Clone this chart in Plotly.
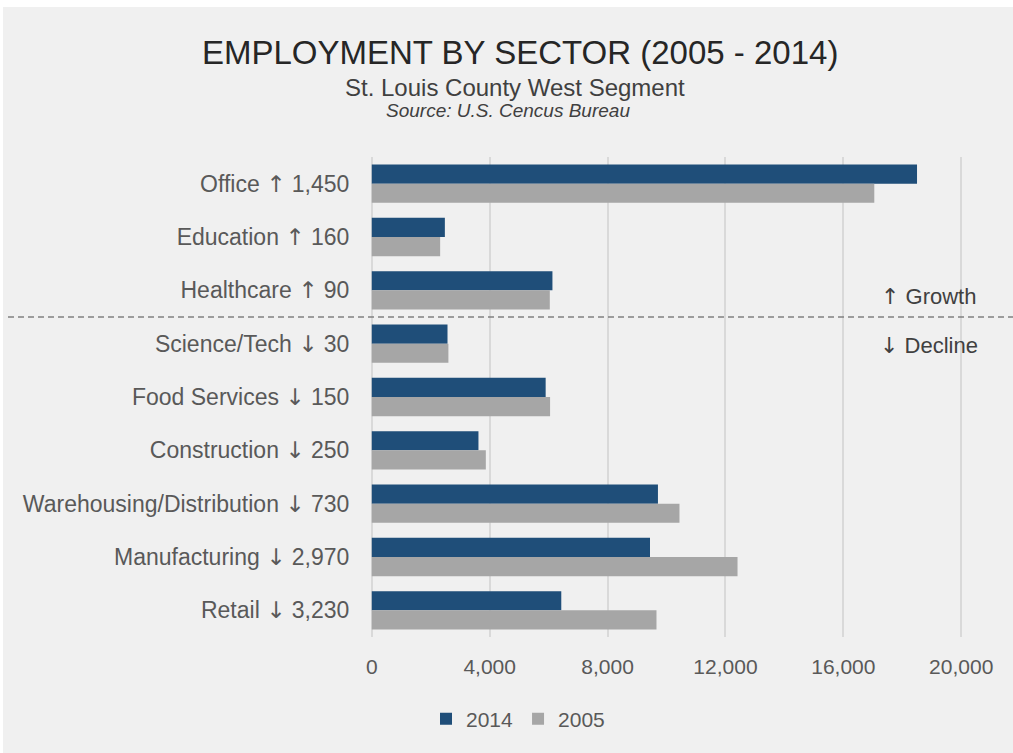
import plotly.graph_objects as go

# Employment counts by sector, St. Louis County West Segment
sectors = ["Office", "Education", "Healthcare", "Science/Tech", "Food Services",
           "Construction", "Warehousing/Distribution", "Manufacturing", "Retail"]
jobs_2014 = [18500, 2480, 6130, 2570, 5900, 3620, 9710, 9440, 6430]
jobs_2005 = [17050, 2320, 6040, 2600, 6050, 3870, 10440, 12410, 9660]
x_ticks = [0, 4000, 8000, 12000, 16000, 20000]

# Category labels carry the 2005 -> 2014 change
ARROW_FONT = "DejaVu Sans"
labels = []
for s, a, b in zip(sectors, jobs_2014, jobs_2005):
    d = a - b
    arrow = "\u2191" if d > 0 else "\u2193"
    labels.append(f"{s} <span style='font-family:{ARROW_FONT}'>{arrow}</span> {abs(d):,}")

W, H = 1013, 753
ML, MR, MT, MB = 370, 50, 157, 116
PW, PH = W - ML - MR, H - MT - MB

def px_x(p):
    return (p - ML) / PW

def px_y(p):
    return 1 - (p - MT) / PH

BLUE = "#1f4e79"
GREY = "#a6a6a6"
FONT = "Liberation Sans, Arial, sans-serif"

fig = go.Figure()
fig.add_trace(go.Bar(y=labels, x=jobs_2014, name="2014", orientation="h",
                     marker=dict(color=BLUE, line=dict(width=0))))
fig.add_trace(go.Bar(y=labels, x=jobs_2005, name="2005", orientation="h",
                     marker=dict(color=GREY, line=dict(width=0))))

shapes = [
    # panel background
    dict(type="rect", xref="paper", yref="paper", x0=px_x(3), x1=px_x(W + 5),
         y0=px_y(H + 5), y1=px_y(7), fillcolor="#f0f0f0", line=dict(width=0),
         layer="below"),
    # growth / decline divider between Healthcare and Science/Tech
    dict(type="line", xref="paper", yref="y", x0=px_x(8), x1=px_x(W),
         y0=2.5, y1=2.5, line=dict(color="#808080", width=1.5, dash="6px,4px")),
]

def note(text, cx, cy, size, color="#404040"):
    return dict(text=text, xref="paper", yref="paper", x=px_x(cx), y=px_y(cy),
                xanchor="center", yanchor="middle", showarrow=False,
                font=dict(size=size, color=color, family=FONT))

annotations = [
    note("EMPLOYMENT BY SECTOR (2005 - 2014)", 520, 53, 33, "#262626"),
    note("St. Louis County West Segment", 515, 87, 24),
    note("<i>Source: U.S. Cencus Bureau</i>", 508, 110, 19),
    note(f"<span style='font-family:{ARROW_FONT}'>\u2191</span> Growth", 928, 296, 22),
    note(f"<span style='font-family:{ARROW_FONT}'>\u2193</span> Decline", 929, 345, 22),
]

fig.update_layout(
    width=W, height=H,
    margin=dict(l=ML, r=MR, t=MT, b=MB, pad=0),
    paper_bgcolor="white", plot_bgcolor="rgba(0,0,0,0)",
    barmode="group", bargap=0.28, bargroupgap=0,
    font=dict(family=FONT, color="#595959"),
    shapes=shapes, annotations=annotations,
    legend=dict(orientation="h", x=px_x(518), y=px_y(719), xanchor="center",
                yanchor="middle", font=dict(size=21, color="#595959"),
                itemwidth=30, traceorder="normal", bgcolor="rgba(0,0,0,0)"),
    showlegend=True,
)
fig.update_xaxes(range=[-60, 20060], tickvals=x_ticks,
                 ticktext=[f"{v:,}" for v in x_ticks], showgrid=True,
                 gridcolor="#d9d9d9", gridwidth=1.5,
                 zeroline=True, zerolinecolor="#d9d9d9", zerolinewidth=1.5,
                 showline=False, ticks="outside", ticklen=11,
                 tickcolor="rgba(0,0,0,0)",
                 tickfont=dict(size=21, color="#595959"))
fig.update_yaxes(autorange="reversed", showgrid=False, zeroline=False,
                 showline=False, ticks="outside", ticklen=15,
                 tickcolor="rgba(0,0,0,0)",
                 tickfont=dict(size=23, color="#595959"))

fig.write_html("out.html")
